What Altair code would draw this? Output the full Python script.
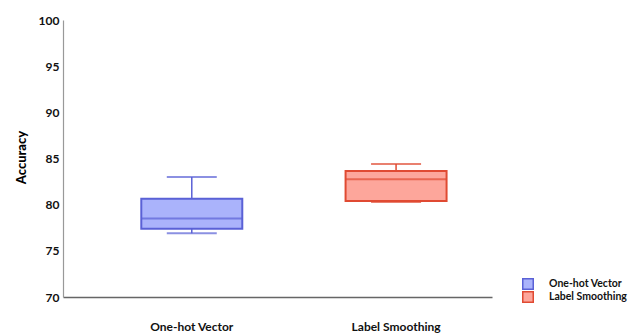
import altair as alt
import pandas as pd

# Summary statistics of accuracy for each encoding scheme
groups = ["One-hot Vector", "Label Smoothing"]
lower = [76.9, 80.3]
q1 = [77.4, 80.4]
median = [78.5, 82.75]
q3 = [80.65, 83.65]
upper = [83.0, 84.4]

fill_colors = ["#aab3fb", "#fda69b"]
line_colors = ["#5a61d6", "#e04a32"]

df = pd.DataFrame({
    "group": groups,
    "lower": lower,
    "q1": q1,
    "median": median,
    "q3": q3,
    "upper": upper,
})

FONT = "Lato"

x = alt.X(
    "group:N",
    sort=groups,
    title=None,
    scale=alt.Scale(paddingInner=0.5, paddingOuter=0.3, align=0.634),
    axis=alt.Axis(
        labelAngle=0, labelFontSize=12, labelFontWeight="bold", labelColor="#111",
        labelFont=FONT, ticks=False, labelPadding=24, domainColor="#666",
        domainWidth=1.3, grid=False,
    ),
)
y_axis = alt.Axis(
    values=[70, 75, 80, 85, 90, 95, 100], labelFontSize=12, labelFontWeight="bold",
    labelColor="#111", labelFont=FONT, ticks=False, labelPadding=4, grid=False,
    domainColor="#999", domainWidth=1.2, title="Accuracy", titleFont=FONT,
    titleFontSize=13, titleFontWeight=900, titleColor="#000", titleAngle=270,
    titleX=-42, titleY=137, titleAlign="center", titleBaseline="middle",
)
y_scale = alt.Scale(domain=[70, 100], nice=False, zero=False)

color_dark = alt.Color("group:N", sort=groups,
                       scale=alt.Scale(domain=groups, range=line_colors), legend=None)

base = alt.Chart(df)

# Box from first to third quartile; its fill and outline also feed the legend
box = base.mark_bar(strokeWidth=2, size=101).encode(
    x=x,
    y=alt.Y("q1:Q", scale=y_scale, axis=y_axis),
    y2="q3:Q",
    fill=alt.Fill("group:N", sort=groups,
                  scale=alt.Scale(domain=groups, range=fill_colors),
                  legend=alt.Legend(title=None)),
    stroke=alt.Stroke("group:N", sort=groups,
                      scale=alt.Scale(domain=groups, range=line_colors),
                      legend=alt.Legend(title=None)),
)

whisker_low = base.mark_rule(strokeWidth=1.5).encode(
    x=x, y=alt.Y("lower:Q", scale=y_scale), y2="q1:Q", color=color_dark,
)
whisker_high = base.mark_rule(strokeWidth=1.5).encode(
    x=x, y=alt.Y("q3:Q", scale=y_scale), y2="upper:Q", color=color_dark,
)

caps_low = base.mark_tick(size=50, thickness=2).encode(
    x=x, y=alt.Y("lower:Q", scale=y_scale), color=color_dark,
)
caps_high = base.mark_tick(size=50, thickness=2).encode(
    x=x, y=alt.Y("upper:Q", scale=y_scale), color=color_dark,
)

mid = base.mark_tick(size=101, thickness=2).encode(
    x=x, y=alt.Y("median:Q", scale=y_scale), color=color_dark,
)

chart = alt.layer(box, whisker_low, whisker_high, caps_low, caps_high, mid).properties(
    width=429,
    height=277,
    autosize=alt.AutoSizeParams(type="none"),
    padding={"left": 63, "top": 20, "right": 148, "bottom": 38},
).configure_view(
    stroke=None,
).configure_legend(
    orient="none",
    legendX=459,
    legendY=258,
    symbolType="square",
    symbolSize=110,
    symbolStrokeWidth=1.5,
    labelFont=FONT,
    labelFontSize=10.5,
    labelFontWeight="bold",
    labelColor="#111",
    labelOffset=15,
    rowPadding=1,
    clipHeight=12,
)

chart.save("out.html", embed_options={"renderer": "svg", "actions": False})
